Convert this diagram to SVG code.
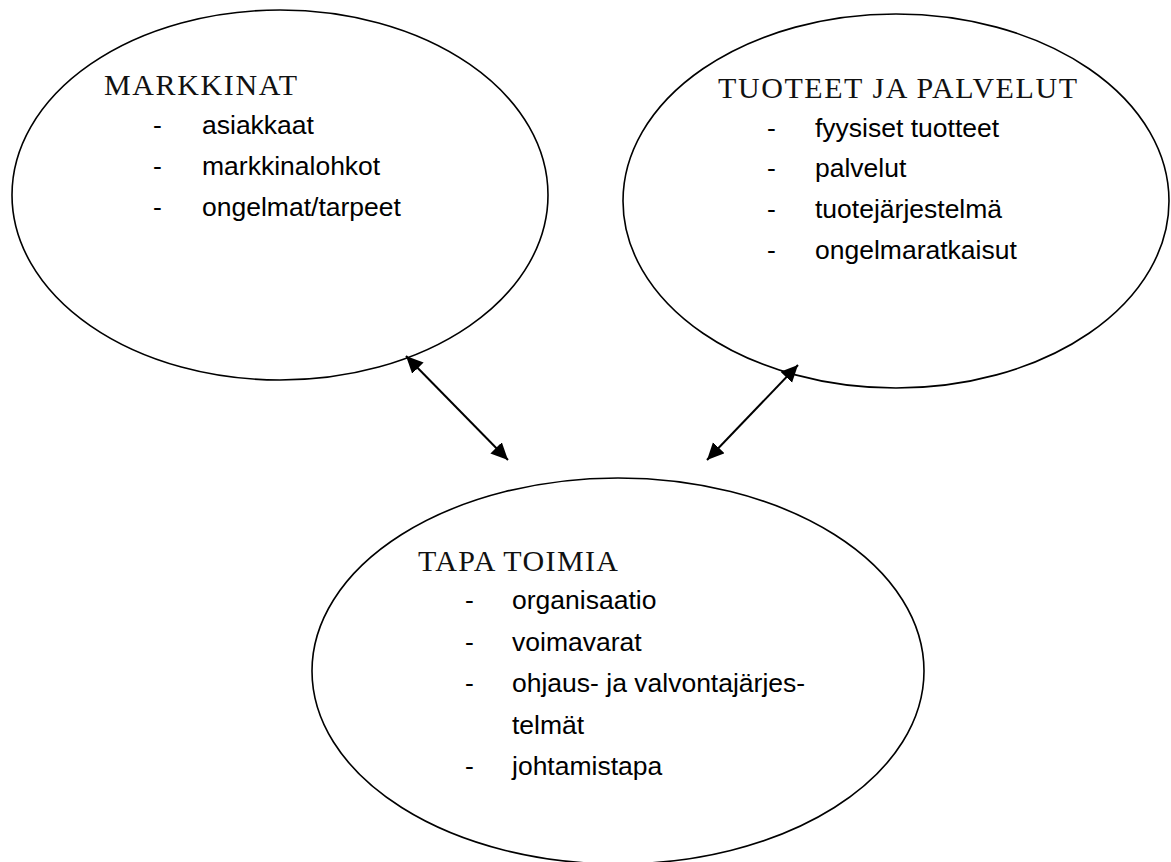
<svg xmlns="http://www.w3.org/2000/svg" width="1171" height="862" viewBox="0 0 1171 862">
<style>
.shape{fill:#fff;stroke:#000;stroke-width:1.6}
.head{font-family:"Liberation Serif","Times New Roman",serif;font-size:30px;fill:#111}
.item{font-family:"Liberation Sans",Arial,sans-serif;font-size:26.5px;fill:#000}
.conn{stroke:#000;stroke-width:2;fill:none}
</style>
<defs>
<marker id="ah" markerUnits="userSpaceOnUse" markerWidth="19" markerHeight="17" refX="17" refY="8" orient="auto-start-reverse">
<path d="M0,0 L17,8 L0,16 z" fill="#000"/>
</marker>
</defs>
<rect width="1171" height="862" fill="#fff"/>
<g id="node-markkinat">
<ellipse class="shape" cx="280" cy="195" rx="268" ry="185"/>
<text class="head" x="104" y="95" textLength="193" lengthAdjust="spacing">MARKKINAT</text>
<text class="item" x="153" y="134">-</text><text class="item" x="202" y="134">asiakkaat</text>
<text class="item" x="153" y="175">-</text><text class="item" x="202" y="175">markkinalohkot</text>
<text class="item" x="153" y="216">-</text><text class="item" x="202" y="216">ongelmat/tarpeet</text>
</g>
<g id="node-tuotteet">
<ellipse class="shape" cx="896" cy="201" rx="273" ry="187"/>
<text class="head" x="718" y="98" textLength="359" lengthAdjust="spacing">TUOTEET JA PALVELUT</text>
<text class="item" x="767" y="137">-</text><text class="item" x="815" y="137">fyysiset tuotteet</text>
<text class="item" x="767" y="177">-</text><text class="item" x="815" y="177">palvelut</text>
<text class="item" x="767" y="218">-</text><text class="item" x="815" y="218">tuotejärjestelmä</text>
<text class="item" x="767" y="259">-</text><text class="item" x="815" y="259">ongelmaratkaisut</text>
</g>
<g id="node-tapa">
<ellipse class="shape" cx="618" cy="671" rx="306" ry="193"/>
<text class="head" x="418" y="571" textLength="200" lengthAdjust="spacing">TAPA TOIMIA</text>
<text class="item" x="465" y="609">-</text><text class="item" x="512" y="609">organisaatio</text>
<text class="item" x="465" y="651">-</text><text class="item" x="512" y="651">voimavarat</text>
<text class="item" x="465" y="692">-</text><text class="item" x="512" y="692">ohjaus- ja valvontajärjes-</text>
<text class="item" x="512" y="734">telmät</text>
<text class="item" x="465" y="775">-</text><text class="item" x="512" y="775">johtamistapa</text>
</g>
<g id="connectors">
<line class="conn" x1="406" y1="356" x2="508" y2="460" marker-start="url(#ah)" marker-end="url(#ah)"/>
<line class="conn" x1="798" y1="365" x2="707" y2="460" marker-start="url(#ah)" marker-end="url(#ah)"/>
</g>
</svg>
